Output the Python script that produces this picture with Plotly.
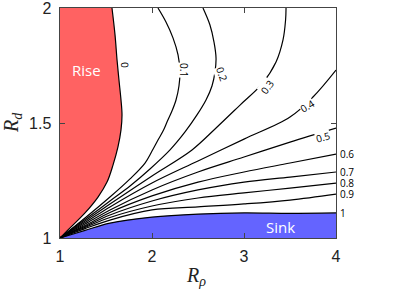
import plotly.graph_objects as go

# ---------------- data ----------------
# contour 0 : boundary of the "Rise" region
c0_x = [1.0, 1.087, 1.272, 1.413, 1.511, 1.576, 1.630, 1.663, 1.674, 1.663, 1.641, 1.620, 1.598, 1.565]
c0_y = [1.0, 1.035, 1.109, 1.178, 1.243, 1.317, 1.396, 1.470, 1.535, 1.600, 1.687, 1.774, 1.883, 2.0]

c01_x = [1.0, 1.109, 1.272, 1.543, 1.761, 1.924, 2.0, 2.065, 2.120, 2.163, 2.217, 2.261, 2.293,
         2.304, 2.283, 2.228, 2.152, 2.065]
c01_y = [1.0, 1.035, 1.087, 1.178, 1.257, 1.326, 1.378, 1.426, 1.465, 1.504, 1.552, 1.600, 1.661,
         1.722, 1.796, 1.870, 1.939, 2.0]

c02_x = [1.0, 1.109, 1.272, 1.543, 1.761, 1.978, 2.196, 2.359, 2.489, 2.587, 2.652, 2.685, 2.696,
         2.674, 2.630, 2.554]
c02_y = [1.0, 1.033, 1.080, 1.161, 1.226, 1.300, 1.383, 1.461, 1.535, 1.600, 1.661, 1.722, 1.783,
         1.852, 1.926, 2.0]

c03_x = [1.0, 1.109, 1.272, 1.543, 2.0, 2.435, 2.685, 2.957, 3.196, 3.348, 3.424, 3.452, 3.457]
c03_y = [1.0, 1.030, 1.074, 1.148, 1.270, 1.383, 1.474, 1.578, 1.670, 1.765, 1.861, 1.948, 2.0]

c04_x = [1.0, 1.109, 1.272, 1.543, 2.0, 2.5, 3.0, 3.5, 3.75, 4.0]
c04_y = [1.0, 1.028, 1.067, 1.135, 1.239, 1.335, 1.430, 1.526, 1.613, 1.730]

# lower contours share one R_rho grid
fan_x = [1.0, 1.109, 1.272, 1.543, 2.0, 2.5, 3.0, 3.5, 4.0]
c05_y = [1.0, 1.026, 1.061, 1.122, 1.209, 1.287, 1.352, 1.417, 1.478]
c06_y = [1.0, 1.024, 1.054, 1.111, 1.183, 1.243, 1.287, 1.326, 1.365]
c07_y = [1.0, 1.022, 1.050, 1.100, 1.161, 1.209, 1.243, 1.265, 1.287]
c08_y = [1.0, 1.020, 1.046, 1.089, 1.139, 1.174, 1.196, 1.217, 1.239]
c09_y = [1.0, 1.017, 1.041, 1.078, 1.122, 1.135, 1.148, 1.165, 1.191]
c1_y = [1.0, 1.013, 1.033, 1.065, 1.091, 1.104, 1.109, 1.107, 1.109]

inline_labels = ["0", "0.1", "0.2", "0.3", "0.4", "0.5"]
edge_labels = ["0.6", "0.7", "0.8", "0.9", "1"]
x_ticks = [1, 2, 3, 4]
y_ticks = [1, 1.5, 2]
y_ticktext = ["1", "1.5", "2"]

# ---------------- styling / placement ----------------
RED = "#FF6262"
BLUE = "#6464FF"
line_style = dict(color="black", width=1.2, shape="spline", smoothing=1.0)

fig = go.Figure()

# Rise region (left of contour 0)
fig.add_trace(go.Scatter(x=c0_x, y=c0_y, mode="lines", line=line_style,
                         fill="tozerox", fillcolor=RED, hoverinfo="skip", showlegend=False))
# Sink region (below contour 1)
fig.add_trace(go.Scatter(x=fan_x, y=c1_y, mode="lines", line=line_style,
                         fill="tozeroy", fillcolor=BLUE, hoverinfo="skip", showlegend=False))

for xs, ys in [(c01_x, c01_y), (c02_x, c02_y), (c03_x, c03_y), (c04_x, c04_y),
               (fan_x, c05_y), (fan_x, c06_y), (fan_x, c07_y), (fan_x, c08_y), (fan_x, c09_y)]:
    fig.add_trace(go.Scatter(x=xs, y=ys, mode="lines", line=line_style,
                             hoverinfo="skip", showlegend=False))

label_font = dict(family="Open Sans", size=10, color="black")
annotations = []
# inline contour labels (placement)
inline_pos = [(1.707, 1.752, 88), (2.348, 1.730, 90), (2.761, 1.713, 72),
              (3.25, 1.657, -55), (3.685, 1.575, -32), (3.859, 1.437, -15)]
for txt, (lx, ly, rot) in zip(inline_labels, inline_pos):
    annotations.append(dict(x=lx, y=ly, xref="x", yref="y", text=txt, showarrow=False,
                            textangle=rot, font=label_font,
                            bgcolor="white" if txt != "0" else None, borderpad=0))
# labels at right edge, next to line ends
for txt, ys in zip(edge_labels, [c06_y, c07_y, c08_y, c09_y, c1_y]):
    annotations.append(dict(x=fan_x[-1], y=ys[-1], xref="x", yref="y", text=txt,
                            showarrow=False, xanchor="left", xshift=2, font=label_font))

annotations.append(dict(x=1.293, y=1.730, xref="x", yref="y", text="Rise", showarrow=False,
                        font=dict(family="Open Sans", size=15, color="white")))
annotations.append(dict(x=3.402, y=1.048, xref="x", yref="y", text="Sink", showarrow=False,
                        font=dict(family="Open Sans", size=15, color="white")))

title_font = dict(family="Liberation Serif", size=20, color="#222")
annotations.append(dict(x=0, y=0.5, xref="paper", yref="paper", xshift=-48,
                        xanchor="center", yanchor="middle",
                        text="<i>R<sub>d</sub></i>", textangle=-90, showarrow=False,
                        font=title_font))
annotations.append(dict(x=0.493, y=0, xref="paper", yref="paper", yshift=-38,
                        xanchor="center", yanchor="middle",
                        text="<i>R<sub>ρ</sub></i>", showarrow=False, font=title_font))

axis_common = dict(showgrid=False, zeroline=False, showline=True, linecolor="#444",
                   linewidth=1, ticks="inside", ticklen=5, tickcolor="#444",
                   mirror="allticks", automargin=False,
                   tickfont=dict(family="Liberation Sans", size=16, color="#222"))

fig.update_layout(
    width=415, height=291,
    margin=dict(l=60, r=79, t=8, b=53),
    paper_bgcolor="white", plot_bgcolor="white",
    xaxis=dict(range=[1, 4], tickvals=x_ticks, ticklabelstandoff=4, **axis_common),
    yaxis=dict(range=[1, 2], tickvals=y_ticks, ticktext=[t + " " for t in y_ticktext],
               ticklabeloverflow="allow", **axis_common),
    annotations=annotations,
    showlegend=False,
)

fig.write_html("out.html", config={"displayModeBar": False},
               post_script="document.body.style.margin='0';document.body.style.padding='0';")
